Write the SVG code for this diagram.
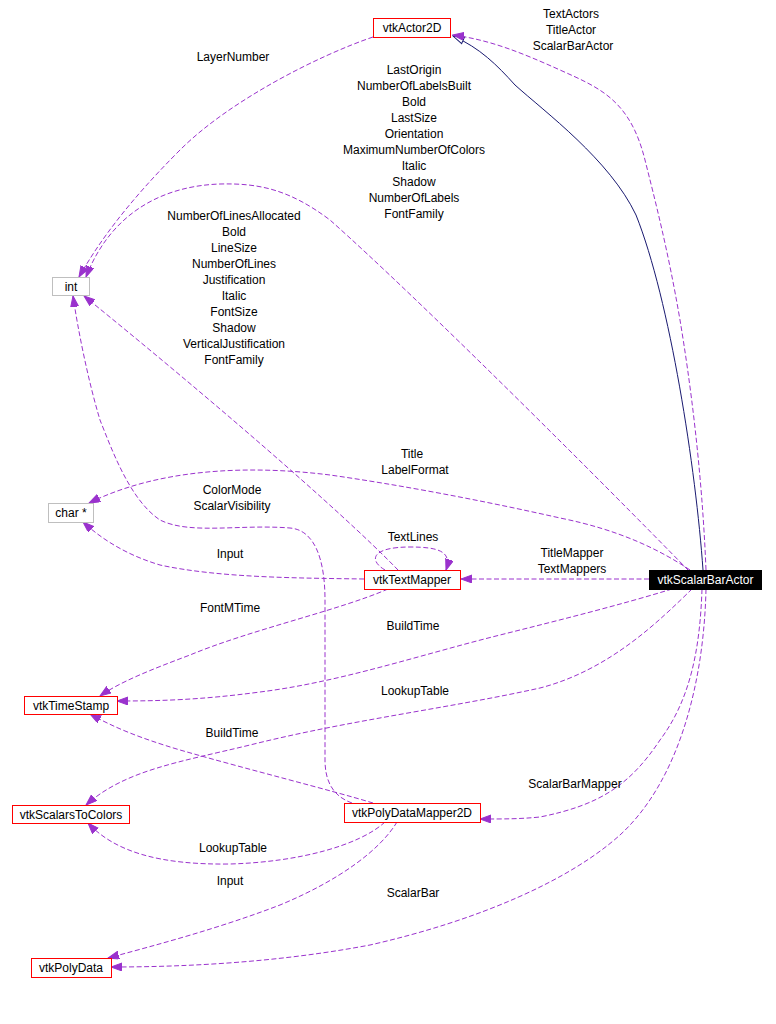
<svg xmlns="http://www.w3.org/2000/svg" width="776" height="1024" viewBox="0 0 776 1024">
<style>
text{font-family:"Liberation Sans",Arial,sans-serif;font-size:12px;fill:#000;text-anchor:middle}
.e{fill:none;stroke:#9a32cd;stroke-dasharray:5,2.5}
.i{fill:none;stroke:#191970}
.r{fill:#fff;stroke:#ff0000}
.g{fill:#fff;stroke:#bfbfbf}
.b{fill:#000;stroke:#000}
</style>
<defs>
<marker id="a" markerUnits="userSpaceOnUse" markerWidth="12" markerHeight="9" refX="11" refY="4" orient="auto" viewBox="0 0 12 9">
<path d="M0,0 L11,4 L0,8 z" fill="#9a32cd" stroke="#9a32cd"/>
</marker>
<marker id="h" markerUnits="userSpaceOnUse" markerWidth="13" markerHeight="10" refX="12" refY="4.5" orient="auto" viewBox="0 0 13 10">
<path d="M1,1 L12,4.5 L1,8 z" fill="#fff" stroke="#191970"/>
</marker>
</defs>
<g id="edges">
<path class="i" marker-end="url(#h)" d="M703,570 C696,470 670,300 636,215 C610,160 545,112 515,85 C497,65 480,48 453,36"/>
<path class="e" marker-end="url(#a)" d="M706,570 C702,470 690,380 680,320 C668,250 655,200 645,160 C630,100 600,88 560,70 C520,52 490,40 453,35"/>
<path class="e" marker-end="url(#a)" d="M373,37 C320,55 230,100 180,150 C130,200 100,240 79,277"/>
<path class="e" marker-end="url(#a)" d="M688,570 C600,480 420,300 330,220 C290,190 260,183 220,184 C160,186 110,215 86,277"/>
<path class="e" marker-end="url(#a)" d="M398,570 C340,510 200,390 84,296"/>
<path class="e" marker-end="url(#a)" d="M352,803 C332,796 325,780 325,760 L325,600 C325,560 315,530 290,528 C240,524 190,535 160,520 C130,500 112,450 100,420 C88,380 78,330 73,296"/>
<path class="e" marker-end="url(#a)" d="M690,570 C660,550 620,530 560,518 C480,500 400,485 330,475 C250,465 160,468 89,503"/>
<path class="e" marker-end="url(#a)" d="M364,579 C300,578 220,578 160,565 C130,556 105,542 83,522"/>
<path class="e" marker-end="url(#a)" d="M385,570 C368,560 372,547 410,547 C440,547 452,552 446,570"/>
<path class="e" marker-end="url(#a)" d="M649,579 L461,579"/>
<path class="e" marker-end="url(#a)" d="M388,589 C340,610 250,630 190,655 C150,670 120,682 100,696"/>
<path class="e" marker-end="url(#a)" d="M672,589 C620,605 560,620 500,635 C420,655 340,682 260,692 C200,700 160,701 117,701"/>
<path class="e" marker-end="url(#a)" d="M692,589 C660,620 610,670 540,688 C450,708 350,720 250,745 C180,762 125,770 86,805"/>
<path class="e" marker-end="url(#a)" d="M373,803 C330,790 250,770 180,750 C140,738 115,728 90,714"/>
<path class="e" marker-end="url(#a)" d="M702,589 C700,650 690,700 660,740 C630,785 600,805 540,817 C520,819 505,819 480,819"/>
<path class="e" marker-end="url(#a)" d="M385,822 C360,845 300,862 230,864 C160,865 115,852 88,823"/>
<path class="e" marker-end="url(#a)" d="M397,822 C380,850 340,880 280,905 C220,928 160,944 108,958"/>
<path class="e" marker-end="url(#a)" d="M706,589 C704,680 680,780 620,835 C570,880 480,920 370,945 C280,962 190,967 111,967"/>
</g>
<g id="edge-labels">
<text x="571" y="18">TextActors</text>
<text x="571" y="34">TitleActor</text>
<text x="573" y="50">ScalarBarActor</text>
<text x="233" y="61">LayerNumber</text>
<text x="414" y="74">LastOrigin</text>
<text x="414" y="90">NumberOfLabelsBuilt</text>
<text x="414" y="106">Bold</text>
<text x="414" y="122">LastSize</text>
<text x="414" y="138">Orientation</text>
<text x="414" y="154">MaximumNumberOfColors</text>
<text x="414" y="170">Italic</text>
<text x="414" y="186">Shadow</text>
<text x="414" y="202">NumberOfLabels</text>
<text x="414" y="218">FontFamily</text>
<text x="234" y="220">NumberOfLinesAllocated</text>
<text x="234" y="236">Bold</text>
<text x="234" y="252">LineSize</text>
<text x="234" y="268">NumberOfLines</text>
<text x="234" y="284">Justification</text>
<text x="234" y="300">Italic</text>
<text x="234" y="316">FontSize</text>
<text x="234" y="332">Shadow</text>
<text x="234" y="348">VerticalJustification</text>
<text x="234" y="364">FontFamily</text>
<text x="412" y="458">Title</text>
<text x="415" y="474">LabelFormat</text>
<text x="232" y="494">ColorMode</text>
<text x="232" y="510">ScalarVisibility</text>
<text x="413" y="541">TextLines</text>
<text x="230" y="558">Input</text>
<text x="572" y="557">TitleMapper</text>
<text x="572" y="573">TextMappers</text>
<text x="230" y="612">FontMTime</text>
<text x="413" y="630">BuildTime</text>
<text x="415" y="695">LookupTable</text>
<text x="232" y="737">BuildTime</text>
<text x="575" y="788">ScalarBarMapper</text>
<text x="233" y="852">LookupTable</text>
<text x="230" y="885">Input</text>
<text x="413" y="897">ScalarBar</text>
</g>
<g id="vtkActor2D"><rect class="r" x="373.5" y="18.5" width="77" height="19"/><text x="412" y="32">vtkActor2D</text></g>
<g id="int"><rect class="g" x="52.5" y="277.5" width="37" height="18"/><text x="71" y="291">int</text></g>
<g id="char"><rect class="g" x="48.5" y="503.5" width="45" height="19"/><text x="71" y="517">char *</text></g>
<g id="vtkTextMapper"><rect class="r" x="364.5" y="570.5" width="96" height="19"/><text x="412" y="584">vtkTextMapper</text></g>
<g id="vtkScalarBarActor"><rect class="b" x="649.5" y="570.5" width="112" height="19"/><text x="705.5" y="584" style="fill:#fff">vtkScalarBarActor</text></g>
<g id="vtkTimeStamp"><rect class="r" x="24.5" y="696.5" width="93" height="18"/><text x="71" y="710">vtkTimeStamp</text></g>
<g id="vtkScalarsToColors"><rect class="r" x="12.5" y="805.5" width="117" height="18"/><text x="71" y="819">vtkScalarsToColors</text></g>
<g id="vtkPolyDataMapper2D"><rect class="r" x="344.5" y="803.5" width="136" height="19"/><text x="412" y="817">vtkPolyDataMapper2D</text></g>
<g id="vtkPolyData"><rect class="r" x="31.5" y="958.5" width="80" height="19"/><text x="71" y="972">vtkPolyData</text></g>
</svg>
